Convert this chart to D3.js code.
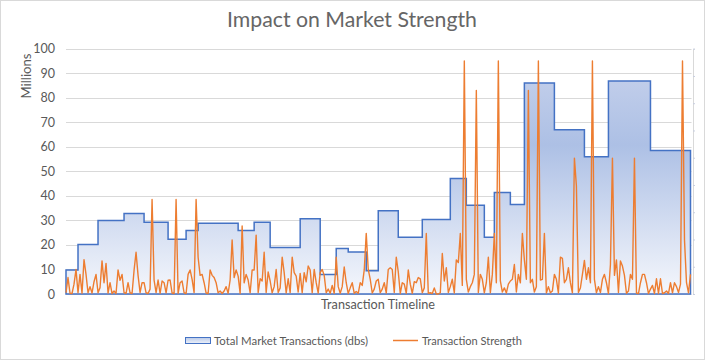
<!DOCTYPE html>
<html><head><meta charset="utf-8">
<script src="https://cdn.jsdelivr.net/npm/d3@7"></script>
<style>body{margin:0;background:#fff}svg{display:block}text{font-family:Lato,"Open Sans",sans-serif;fill:#595959}</style>
</head><body><svg id="c" width="705" height="360"></svg>
<script>
// ---- data ----
const title = "Impact on Market Strength";
const yTicks = [0,10,20,30,40,50,60,70,80,90,100];
const yAxisTitle = "Millions";
const xAxisTitle = "Transaction Timeline";
const seriesNames = ["Total Market Transactions (dbs)", "Transaction Strength"];
// step series: start index of each level and its value (millions)
const stepStart = [0,6,16,29,39,51,60,66,86,94,102,117,127,135,141,150,156,166,178,192,200,209,214,222,229,244,259,271,292];
const stepValue = [9.8,20.2,30.0,32.8,29.2,22.3,25.9,28.8,25.9,29.2,19.0,30.7,8.0,18.5,17.1,9.5,33.9,23.1,30.4,47.1,36.2,23.1,41.4,36.5,86.0,67.0,56.0,86.8,58.5];
const lastIndex = 312;
// transaction strength (millions), one value per timeline point
const strength = [
0.5,6.7,0.3,0.2,4,10,0.5,8,0.3,14,
8,0.5,3,0.4,5,8,0.5,2.6,13.5,4.6,
12.5,0.4,4.6,0.2,1.2,0.2,9.8,5.6,8,0.5,
0.3,4.6,0.5,0.2,9.6,17,7.6,0.6,4.6,4.6,
0.5,0.2,2,38.5,5.7,0.6,5.7,0.3,5.3,4.6,
0.5,5.6,5.7,0.4,0.2,38.5,0.3,4.6,5.3,0.5,
0.2,8,9.8,6,0.6,38.5,15,7.6,8,4.6,
0.4,0.2,9.8,7.6,6.7,4.6,0.5,1.2,0.2,1.2,
3,0.3,5.7,22,6.7,9.8,7.3,0.2,27.7,4.6,
8,5.7,0.5,9.8,9.8,24,0.6,6.2,5.3,17,
0.6,9,5.3,0.5,3,10,0.6,2.5,15,8.7,
0.4,6.2,0.6,15,8.7,7.3,0.8,8.4,0.5,8.7,
5,11.4,9.8,0.5,10,4.6,0.4,8.7,10,7.6,
0.5,2,0.3,3.5,0.3,15,3,0.3,3,11,
4.6,0.2,2.5,4.6,0.3,1,0.3,4.6,3.5,9.8,
24.7,10,6,0.4,2,5.3,6,0.5,2,4.6,
0.4,10,10.7,10,0.6,15,9,0.2,4.6,4,
0.3,9.8,4,0.3,5,4.6,6.7,6.2,0.5,2.5,
24.7,0.3,0.5,0.2,2.5,0,0,0.5,16.5,5.3,
10.7,0.6,3,6,0.4,13.9,12.8,24.7,3.5,95,
6,0.8,3,4.6,8,83,0.6,8,6,0.5,
4.6,15,0.5,8,24.7,4.6,95,5.3,0.8,2.5,
0.4,4,5.3,6,12,0.8,8,4.6,24.7,13.9,
6,83,4.6,6,0.8,3,95,5.7,6,24.7,
0.4,3,0.5,1.2,8,6,0.3,15,14.5,4.6,
6,10.7,4.6,0.5,55.4,44,0.6,2.5,8,13.7,
6,10.7,4.6,95,6,0.5,3,0.6,6,8,
4.6,0.2,12,55.4,7.6,13.9,0.6,13.5,11.4,7.6,
0.3,1.2,8,6,55.4,0.4,0.2,4.6,8,8,
4.6,0.2,2,3.5,0.2,6.2,0.2,6.2,0.2,0.5,
1.2,0.2,4.6,0.5,4.6,3,0.6,4,95,22,
4.6,0.5,8];

// ---- chart ----
const svg = d3.select("#c");
const W = 705, H = 360;
const plot = {l:66, r:691.5, t:48.7, b:294};
svg.append("rect").attr("x",0.5).attr("y",0.5).attr("width",W-1).attr("height",H-1)
  .attr("fill","#fff").attr("stroke","#d9d9d9");

const x = d3.scaleLinear().domain([0,lastIndex]).range([plot.l, 690.5]);
const y = d3.scaleLinear().domain([0,100]).range([plot.b, plot.t]);

const defs = svg.append("defs");
const g1 = defs.append("linearGradient").attr("id","blueGrad").attr("x1",0).attr("y1",0).attr("x2",0).attr("y2",1);
g1.append("stop").attr("offset","0").attr("stop-color","#c0cdea");
g1.append("stop").attr("offset","0.3").attr("stop-color","#adc0e5");
g1.append("stop").attr("offset","1").attr("stop-color","#f5f7fc");
const g2 = defs.append("linearGradient").attr("id","legGrad").attr("x1",0).attr("y1",0).attr("x2",0).attr("y2",1);
g2.append("stop").attr("offset","0").attr("stop-color","#b9c9e8");
g2.append("stop").attr("offset","1").attr("stop-color","#eef2fa");

// gridlines
svg.append("g").selectAll("line").data(yTicks).join("line")
  .attr("x1",plot.l).attr("x2",plot.r)
  .attr("y1",d=>Math.round(y(d))+0.5).attr("y2",d=>Math.round(y(d))+0.5)
  .attr("stroke","#d9d9d9").attr("stroke-width",1);

// y axis labels via d3 axis
const yAxis = svg.append("g").attr("transform",`translate(${plot.l-3},0)`)
  .call(d3.axisLeft(y).tickValues(yTicks).tickSize(0).tickPadding(8));
yAxis.select(".domain").remove();
yAxis.selectAll("text").style("font-family","Lato, 'Open Sans', sans-serif").attr("font-size",12.5).attr("fill","#595959");

// secondary right axis line (unlabelled)
const y2 = d3.scaleLinear().domain([0,9]).range([plot.b, plot.t]);
const ax2 = svg.append("g").attr("transform",`translate(${plot.r+1.5},0)`)
  .call(d3.axisRight(y2).ticks(9).tickSize(2).tickFormat(""));
ax2.select(".domain").attr("stroke","#d9d9d9");
ax2.selectAll("line").attr("stroke","#c8cfe0");

// step area
const stepPts = stepStart.map((s,k)=>({i:s, v:stepValue[k]}));
stepPts.push({i:lastIndex, v:stepValue[stepValue.length-1]});
const area = d3.area().x(d=>x(d.i)).y0(y(0)).y1(d=>y(d.v)).curve(d3.curveStepAfter);
svg.append("path").datum(stepPts).attr("d",area)
  .attr("fill","url(#blueGrad)").attr("stroke","#4472c4").attr("stroke-width",1.5)
  .attr("stroke-linejoin","miter");

// strength line
const line = d3.line().x((d,i)=>x(i)).y(d=>y(d));
svg.append("path").datum(strength).attr("d",line)
  .attr("fill","none").attr("stroke","#ed7d31").attr("stroke-width",1.4).attr("stroke-linejoin","round");

// fit helper
function fit(t, target){
  const n = t.node(); const len = n.getComputedTextLength();
  const fs = parseFloat(t.attr("font-size"));
  if (len>0) t.attr("font-size", (fs*target/len).toFixed(2));
}
// title
const tt = svg.append("text").attr("x",352).attr("y",27).attr("text-anchor","middle").attr("font-size",19).attr("fill","#595959").style("fill","#666").text(title);
fit(tt,250);
// y title
const yt = svg.append("text").attr("transform","translate(31,76) rotate(-90)").attr("text-anchor","middle").attr("font-size",12).text(yAxisTitle);
fit(yt,45);
// x title
const xt = svg.append("text").attr("x",378).attr("y",309).attr("text-anchor","middle").attr("font-size",12).text(xAxisTitle);
fit(xt,114);

// legend
svg.append("rect").attr("x",185.5).attr("y",337.5).attr("width",25).attr("height",6)
  .attr("fill","url(#legGrad)").attr("stroke","#4472c4").attr("stroke-width",1);
const l1 = svg.append("text").attr("x",214).attr("y",344.5).attr("font-size",12).text(seriesNames[0]);
fit(l1,154);
svg.append("line").attr("x1",393).attr("x2",418).attr("y1",340.5).attr("y2",340.5)
  .attr("stroke","#ed7d31").attr("stroke-width",1.5);
const l2 = svg.append("text").attr("x",422).attr("y",344.5).attr("font-size",12).text(seriesNames[1]);
fit(l2,100);
</script></body></html>
